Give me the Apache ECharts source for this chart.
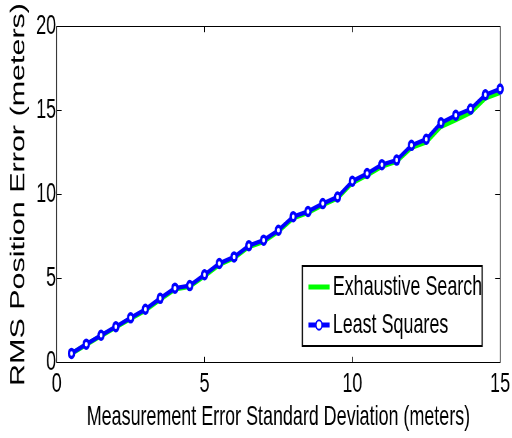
<!DOCTYPE html>
<html>
<head>
<meta charset="utf-8">
<script src="https://cdn.jsdelivr.net/npm/echarts@6/dist/echarts.min.js"></script>
<style>
html,body{margin:0;padding:0;background:#fff;}
#wrap{width:512px;height:438px;overflow:hidden;position:relative;}
#chart{width:800px;height:438px;transform:scaleX(0.64);transform-origin:0 0;}
</style>
</head>
<body>
<div id="wrap"><div id="chart"></div></div>
<script>
const xValues = [0.5,1,1.5,2,2.5,3,3.5,4,4.5,5,5.5,6,6.5,7,7.5,8,8.5,9,9.5,10,10.5,11,11.5,12,12.5,13,13.5,14,14.5,15];
const exhaustiveSearch = [0.52,1.05,1.58,2.09,2.6,3.1,3.75,4.36,4.52,5.15,5.82,6.22,6.88,7.2,7.8,8.6,8.92,9.38,9.78,10.7,11.15,11.68,11.98,12.8,13.12,14.05,14.45,14.88,15.75,16.08];
const leastSquares = [0.53,1.08,1.61,2.12,2.65,3.16,3.81,4.42,4.57,5.22,5.89,6.28,6.95,7.28,7.87,8.68,8.99,9.46,9.85,10.79,11.25,11.78,12.05,12.93,13.29,14.27,14.72,15.09,15.94,16.29];
const xTicks = [0,5,10,15];
const yTicks = [0,5,10,15,20];
const seriesNames = ['Exhaustive Search','Least Squares'];
const xTitle = 'Measurement Error Standard Deviation (meters)';
const yTitle = 'RMS Position Error (meters)';

const FONT = "'Liberation Sans', Arial, Helvetica, sans-serif";
const pairs = ys => xValues.map((x,i)=>[x, ys[i]]);

const chart = echarts.init(document.getElementById('chart'), null, {renderer:'canvas'});
const axisCommon = {
  type:'value',
  axisLine:{show:true, onZero:false, lineStyle:{color:'#000', width:1.2}},
  splitLine:{show:false},
};
chart.setOption({
  backgroundColor:'#fff',
  animation:false,
  grid:{left:88.6, right:13.6, top:22.7, bottom:75.7, show:false},
  xAxis:[
    Object.assign({}, axisCommon, {
      min:xTicks[0], max:xTicks[xTicks.length-1], interval:5, position:'bottom',
      axisTick:{show:true, inside:true, length:5.5, lineStyle:{color:'#000'}},
      axisLabel:{color:'#000', fontSize:28, fontFamily:FONT, margin:8,
        formatter: v => xTicks.includes(v) ? String(v) : ''},
      name:xTitle, nameLocation:'middle', nameGap:36,
      nameTextStyle:{color:'#000', fontSize:28, fontFamily:FONT}
    }),
    Object.assign({}, axisCommon, {
      min:0, max:15, interval:5, position:'top',
      axisTick:{show:true, inside:true, length:5.5, lineStyle:{color:'#000'}},
      axisLabel:{show:false}
    })
  ],
  yAxis:[
    Object.assign({}, axisCommon, {
      min:yTicks[0], max:yTicks[yTicks.length-1], interval:5, position:'left',
      axisTick:{show:true, inside:true, length:7.8, lineStyle:{color:'#000'}},
      axisLabel:{color:'#000', fontSize:28, fontFamily:FONT, margin:1,
        formatter: v => yTicks.includes(v) ? String(v) : ''},
      name:yTitle, nameLocation:'middle', nameGap:34,
      nameTextStyle:{color:'#000', fontSize:30.5, fontFamily:FONT}
    }),
    Object.assign({}, axisCommon, {
      min:0, max:20, interval:5, position:'right',
      axisTick:{show:true, inside:true, length:7.8, lineStyle:{color:'#000'}},
      axisLabel:{show:false}
    })
  ],
  legend:{
    left:472.4, top:266,
    orient:'vertical',
    data:[
      {name:seriesNames[0], itemStyle:{opacity:0}, lineStyle:{width:5, color:'#00ff00'}},
      {name:seriesNames[1], lineStyle:{width:5, color:'#0000ff'}}
    ],
    itemWidth:33, itemHeight:12, itemGap:8,
    padding:[6,0,6,7],
    borderColor:'#000', borderWidth:1.8,
    backgroundColor:'#fff',
    textStyle:{color:'#000', fontSize:28, fontFamily:FONT, lineHeight:30}
  },
  series:[
    {
      name:seriesNames[0], type:'line', data:pairs(exhaustiveSearch),
      symbol:'none', showSymbol:false, clip:false,
      lineStyle:{color:'#00ff00', width:5},
      itemStyle:{color:'#00ff00'},
      z:2
    },
    {
      name:seriesNames[1], type:'line', data:pairs(leastSquares),
      symbol:'circle', symbolSize:8, showSymbol:true, clip:false,
      lineStyle:{color:'#0000ff', width:4.5},
      itemStyle:{color:'#ffffff', borderColor:'#0000ff', borderWidth:3.5},
      z:3
    }
  ]
});
</script>
</body>
</html>
